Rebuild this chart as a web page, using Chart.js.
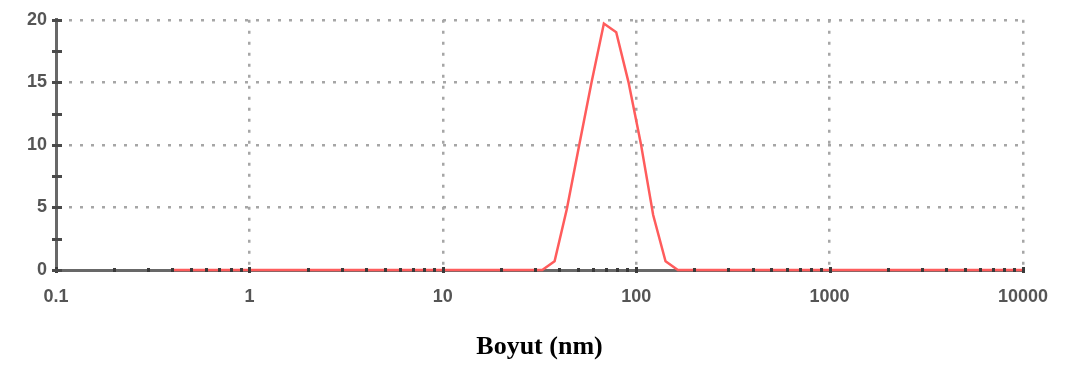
<!DOCTYPE html>
<html>
<head>
<meta charset="utf-8">
<title>Boyut dağılımı</title>
<script src="https://cdn.jsdelivr.net/npm/chart.js@4/dist/chart.umd.min.js"></script>
<style>
  html, body { margin: 0; padding: 0; background: #ffffff; }
  #wrap { width: 1066px; height: 367px; }
</style>
</head>
<body>
<div id="wrap"><canvas id="c" width="1066" height="367"></canvas></div>
<script>
// Size bins (d.nm) of the distribution
const sizes = [0.4, 0.4632, 0.5365, 0.6213, 0.7195, 0.8332, 0.9649, 1.117, 1.294, 1.499,
  1.736, 2.01, 2.328, 2.696, 3.122, 3.615, 4.187, 4.849, 5.615, 6.503,
  7.531, 8.721, 10.1, 11.7, 13.54, 15.69, 18.17, 21.04, 24.36, 28.21,
  32.67, 37.84, 43.82, 50.75, 58.77, 68.06, 78.82, 91.28, 105.7, 122.4,
  141.8, 164.2, 190.1, 220.2, 255, 295.3, 342, 396.1, 458.7, 531.2,
  615.1, 712.4, 825, 955.4, 1106, 1281, 1484, 1718, 1990, 2305,
  2669, 3091, 3580, 4145, 4801, 5560, 6439, 7456, 8635, 10000];

// Intensity (%) per bin
const intensity = [0, 0, 0, 0, 0, 0, 0, 0, 0, 0,
  0, 0, 0, 0, 0, 0, 0, 0, 0, 0,
  0, 0, 0, 0, 0, 0, 0, 0, 0, 0,
  0, 0.7, 4.9, 10.0, 15.0, 19.7, 19.0, 15.0, 10.1, 4.4,
  0.7, 0, 0, 0, 0, 0, 0, 0, 0, 0,
  0, 0, 0, 0, 0, 0, 0, 0, 0, 0,
  0, 0, 0, 0, 0, 0, 0, 0, 0, 0];

// Axis ticks
const xTickValues = [0.1, 0.2, 0.3, 0.4, 0.5, 0.6, 0.7, 0.8, 0.9,
  1, 2, 3, 4, 5, 6, 7, 8, 9,
  10, 20, 30, 40, 50, 60, 70, 80, 90,
  100, 200, 300, 400, 500, 600, 700, 800, 900,
  1000, 2000, 3000, 4000, 5000, 6000, 7000, 8000, 9000, 10000];
const xTickLabels = ['0.1', '1', '10', '100', '1000', '10000'];
const yTickValues = [0, 2.5, 5, 7.5, 10, 12.5, 15, 17.5, 20];
const yTickLabels = ['0', '5', '10', '15', '20'];

const xTitle = 'Boyut (nm)';

const isDecade = v => xTickLabels.includes(String(v));
const isYLabel = v => yTickLabels.includes(String(v));

const GRID = '#a6a6a6';
const AXIS = '#686868';

// Small dark marks across the axis lines, drawn over the data line
const axisMarks = {
  id: 'axisMarks',
  afterDatasetsDraw(chart) {
    const ctx = chart.ctx;
    const xs = chart.scales.x, ys = chart.scales.y;
    const area = chart.chartArea;
    ctx.save();
    ctx.fillStyle = '#3a3a3a';
    xTickValues.forEach(v => {
      const px = Math.round(xs.getPixelForValue(v));
      const h = isDecade(v) ? 6 : 4;
      ctx.fillRect(px - 1, area.bottom - h / 2, 3, h);
    });
    ctx.fillStyle = '#4a4a4a';
    yTickValues.forEach(v => {
      const py = Math.round(ys.getPixelForValue(v));
      ctx.fillRect(area.left - 4, py - 1, 10, 3);
    });
    ctx.restore();
  }
};

const points = sizes.map((s, i) => ({ x: s, y: intensity[i] }));

new Chart(document.getElementById('c'), {
  type: 'line',
  data: {
    datasets: [{
      data: points,
      borderColor: 'rgb(255, 92, 92)',
      borderWidth: 2.5,
      pointRadius: 0,
      tension: 0,
      fill: false,
      clip: false
    }]
  },
  options: {
    responsive: false,
    animation: false,
    events: [],
    layout: { padding: { top: 15, right: 43, bottom: 0, left: 0 } },
    plugins: {
      legend: { display: false },
      tooltip: { enabled: false }
    },
    scales: {
      x: {
        type: 'logarithmic',
        min: 0.1,
        max: 10000,
        afterBuildTicks: s => { s.ticks = xTickValues.map(v => ({ value: v })); },
        afterFit: s => { s.height = 97; },
        grid: {
          drawTicks: false,
          lineWidth: 2.5,
          color: c => (c.tick && isDecade(c.tick.value) && c.tick.value !== 0.1) ? GRID : 'rgba(0,0,0,0)'
        },
        border: { display: true, color: AXIS, width: 3, dash: [3, 8] },
        ticks: {
          autoSkip: false,
          maxRotation: 0,
          padding: 16,
          color: '#555555',
          font: { family: 'Liberation Sans', size: 18, weight: 'bold' },
          callback: v => isDecade(v) ? String(v) : ''
        },
        title: {
          display: true,
          text: xTitle,
          color: '#000000',
          font: { family: 'Liberation Serif', size: 26, weight: 'bold' },
          padding: { top: 0, bottom: 4 }
        }
      },
      y: {
        type: 'linear',
        min: 0,
        max: 20,
        afterBuildTicks: s => { s.ticks = yTickValues.map(v => ({ value: v })); },
        afterFit: s => { s.width = 56; },
        grid: {
          drawTicks: false,
          lineWidth: 2.5,
          color: c => (c.tick && isYLabel(c.tick.value) && c.tick.value !== 0) ? GRID : 'rgba(0,0,0,0)'
        },
        border: { display: true, color: AXIS, width: 3, dash: [3, 8] },
        ticks: {
          autoSkip: false,
          padding: 9,
          color: '#555555',
          font: { family: 'Liberation Sans', size: 18, weight: 'bold' },
          callback: v => isYLabel(v) ? String(v) : ''
        }
      }
    }
  },
  plugins: [axisMarks]
});
</script>
</body>
</html>
